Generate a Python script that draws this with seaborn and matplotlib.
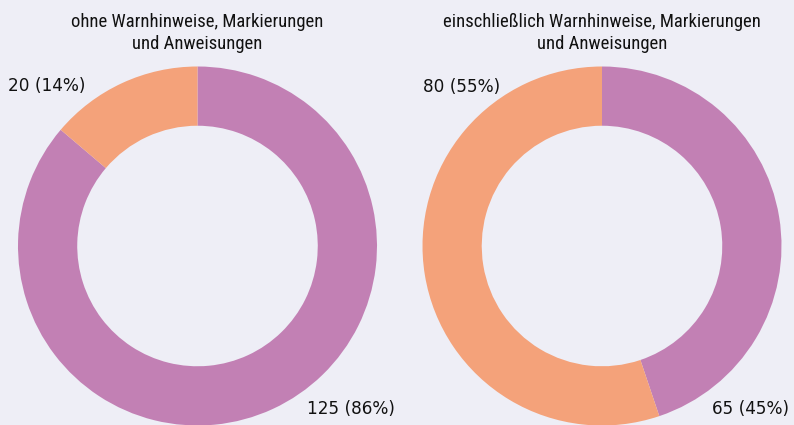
import matplotlib
matplotlib.use("Agg")
import matplotlib.pyplot as plt
from matplotlib import font_manager
import seaborn as sns

# data
titles = ["ohne Warnhinweise, Markierungen\nund Anweisungen",
          "einschließlich Warnhinweise, Markierungen\nund Anweisungen"]
left_vals = [125, 20]
right_vals = [65, 80]
left_labels = ["125 (86%)", "20 (14%)"]
right_labels = ["65 (45%)", "80 (55%)"]

sns.set_theme(style="white")
colors = ["#c280b4", "#f4a27a"]
bg = "#eeeef6"

# narrow font for the subtitles if one is installed
names = set(f.name for f in font_manager.fontManager.ttflist)
narrow = None
for n in ["Liberation Sans Narrow", "DejaVu Sans Condensed", "Roboto Condensed",
          "Open Sans Condensed", "Noto Sans Condensed"]:
    if n in names:
        narrow = n
        break
title_kw = dict(family=[narrow, "DejaVu Sans"], fontsize=13.4) if narrow else \
    dict(family="DejaVu Sans", fontsize=10.5, stretch="condensed")

fig = plt.figure(figsize=(7.94, 4.25), dpi=100, facecolor=bg)

W, H = 794, 425
R = 179.5
cy = 246

def donut(cx, vals, labels, title, pos):
    ax = fig.add_axes([(cx - R) / W, (H - cy - R) / H, 2 * R / W, 2 * R / H])
    ax.set_facecolor(bg)
    ax.pie(vals, colors=colors, startangle=90, counterclock=False, radius=1,
           wedgeprops=dict(width=0.33, edgecolor="none"))
    ax.set_xlim(-1, 1)
    ax.set_ylim(-1, 1)
    ax.set_aspect("equal")
    ax.axis("off")
    for lab, (x, y) in zip(labels, pos):
        fig.text(x / W, 1 - y / H, lab, ha="center", va="center", fontsize=12.2,
                 family="DejaVu Sans", color="#111111")
    fig.text(cx / W, 1 - 33 / H, title, ha="center", va="center",
             color="#111111", linespacing=1.3, **title_kw)

donut(197.5, left_vals, left_labels, titles[0], [(350.5, 409), (46.5, 86)])
donut(602, right_vals, right_labels, titles[1], [(751, 409), (461.5, 87)])

fig.savefig("out.png", dpi=100, facecolor=bg)
